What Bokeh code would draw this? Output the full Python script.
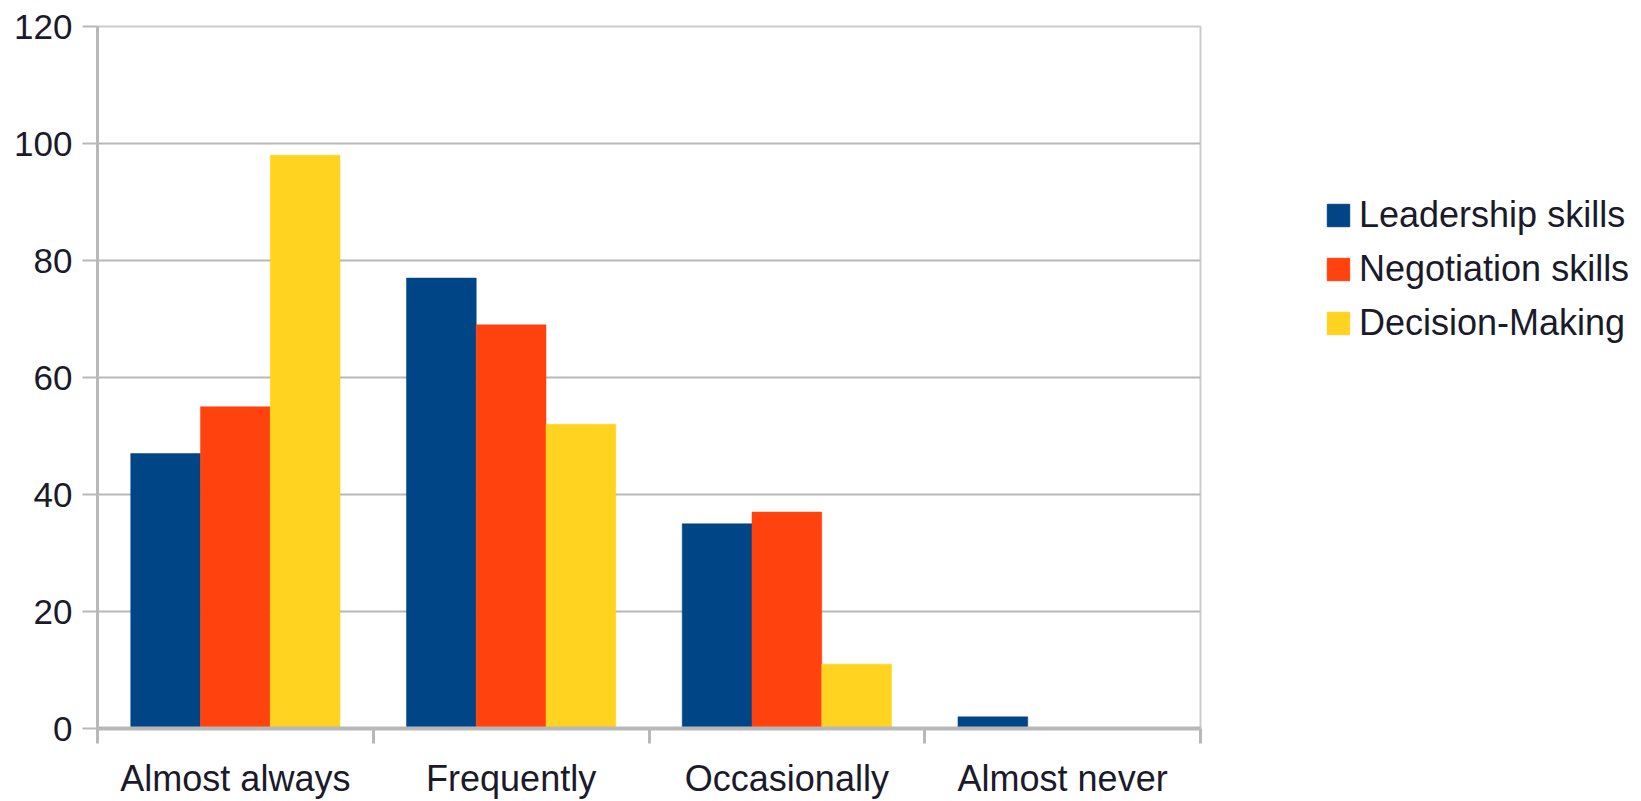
from bokeh.plotting import figure
from bokeh.layouts import row
from bokeh.models import ColumnDataSource, Range1d, FixedTicker, Legend, LegendItem
from bokeh.transform import dodge
from bokeh.embed import file_html
from bokeh.resources import INLINE

# Survey answers per frequency category
categories = ["Almost always", "Frequently", "Occasionally", "Almost never"]
series_names = ["Leadership skills", "Negotiation skills", "Decision-Making"]
leadership = [47, 77, 35, 2]
negotiation = [55, 69, 37, 0]
decision = [98, 52, 11, 0]
y_ticks = [0, 20, 40, 60, 80, 100, 120]

colors = ["#004586", "#ff420e", "#ffd320"]
grey = "#b8b8b8"
text_color = "#1a1a2a"
font = "Liberation Sans"

n = len(categories)
centers = [i + 0.5 for i in range(n)]
edges = list(range(n + 1))
bar_w = 0.253
series_cols = ["leadership", "negotiation", "decision"]

source = ColumnDataSource(dict(
    x=centers,
    leadership=leadership,
    negotiation=negotiation,
    decision=decision,
))

p = figure(
    width=1210, height=801,
    x_range=Range1d(0, n), y_range=Range1d(0, y_ticks[-1]),
    output_backend="svg", toolbar_location=None,
    min_border_left=97, min_border_right=10,
    min_border_top=26, min_border_bottom=71,
)
p.background_fill_color = "white"
p.border_fill_color = "white"
p.outline_line_color = "#cccccc"
p.outline_line_width = 2

for col, off, color in zip(series_cols, [-bar_w, 0, bar_w], colors):
    p.vbar(x=dodge("x", off, range=p.x_range), top=col, bottom=0, width=bar_w,
           source=source, fill_color=color, line_color=color, line_width=0.5)

# y axis and horizontal grid
p.yaxis.ticker = FixedTicker(ticks=y_ticks)
p.ygrid.ticker = FixedTicker(ticks=y_ticks)
p.ygrid.grid_line_color = grey
p.ygrid.grid_line_width = 2
p.xgrid.visible = False
p.yaxis.axis_line_color = grey
p.yaxis.axis_line_width = 3
p.yaxis.major_tick_line_color = grey
p.yaxis.major_tick_line_width = 2
p.yaxis.major_tick_out = 15
p.yaxis.major_tick_in = 0
p.yaxis.minor_tick_line_color = None
p.yaxis.major_label_standoff = 10
p.yaxis.major_label_text_font = font
p.yaxis.major_label_text_font_size = "35px"
p.yaxis.major_label_text_color = text_color

# x axis: labels at category centres, tick marks at category boundaries
p.xaxis.ticker = FixedTicker(ticks=centers, minor_ticks=edges)
p.xaxis.major_label_overrides = {c: name for c, name in zip(centers, categories)}
p.xaxis.axis_line_color = grey
p.xaxis.axis_line_width = 4
p.xaxis.major_tick_out = 15
p.xaxis.major_tick_in = 0
p.xaxis.major_tick_line_alpha = 0
p.xaxis.minor_tick_out = 15
p.xaxis.minor_tick_in = 0
p.xaxis.minor_tick_line_color = grey
p.xaxis.minor_tick_line_width = 3
p.xaxis.major_label_standoff = 14
p.xaxis.major_label_text_font = font
p.xaxis.major_label_text_font_size = "36px"
p.xaxis.major_label_text_color = text_color

# legend panel to the right of the chart; its key renderers are hidden,
# only their legend swatches are drawn
lp = figure(
    width=431, height=801,
    x_range=Range1d(0, n), y_range=Range1d(0, y_ticks[-1]),
    x_axis_location=None, y_axis_location=None,
    output_backend="svg", toolbar_location=None,
    min_border=0,
)
lp.grid.visible = False
lp.outline_line_color = None
lp.background_fill_color = "white"
lp.border_fill_color = "white"

keys = []
for col, color in zip(series_cols, colors):
    r = lp.vbar(x="x", top=col, width=bar_w, source=source,
                fill_color=color, line_color=color)
    r.visible = False
    keys.append(r)

legend = Legend(
    items=[LegendItem(label=name, renderers=[r]) for name, r in zip(series_names, keys)],
    location=(114, 384),
    glyph_width=28, glyph_height=28, label_standoff=7, spacing=12,
    padding=0, margin=0,
    border_line_alpha=0, background_fill_alpha=0,
    inactive_fill_alpha=0,
    label_text_font=font, label_text_font_size="36px", label_text_color=text_color,
)
lp.add_layout(legend)

layout = row(p, lp, spacing=0)
open("out.html", "w").write(file_html(layout, INLINE))
